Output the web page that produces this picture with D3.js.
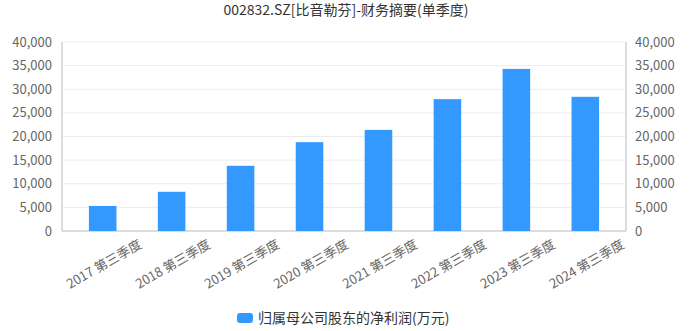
<!DOCTYPE html>
<html>
<head>
<meta charset="utf-8">
<script src="https://cdn.jsdelivr.net/npm/d3@7"></script>
<style>
  body { margin: 0; background: #fff; }
  svg text { font-family: "Noto Sans CJK SC", "Noto Sans", sans-serif; }
</style>
</head>
<body>
<svg class="chart" width="692" height="331"></svg>
<script>
const title = "002832.SZ[比音勒芬]-财务摘要(单季度)";
const seriesName = "归属母公司股东的净利润(万元)";
const categories = ["2017 第三季度", "2018 第三季度", "2019 第三季度", "2020 第三季度",
                    "2021 第三季度", "2022 第三季度", "2023 第三季度", "2024 第三季度"];
const profit = [5300, 8300, 13800, 18800, 21400, 27900, 34300, 28400];
const yTicks = [0, 5000, 10000, 15000, 20000, 25000, 30000, 35000, 40000];

(function barChart(){
    let svg = d3.select("svg.chart");
    let margin = {top: 42, right: 66, bottom: 100, left: 62};
    let width = svg.attr("width") - margin.left - margin.right;
    let height = svg.attr("height") - margin.top - margin.bottom;

    let x = d3.scaleBand().domain(categories).range([0, width])
        .paddingInner(0.6).paddingOuter(0.39);
    let y = d3.scaleLinear().domain([0, 40000]).range([height, 0]);
    let fmt = d3.format(",");

    // title
    svg.append("text")
        .attr("x", 346).attr("y", 15)
        .attr("text-anchor", "middle")
        .style("font-size", "14px")
        .style("fill", "#333")
        .text(title);

    let g = svg.append("g").attr("transform", "translate(" + margin.left + "," + margin.top + ")");

    // grid lines
    g.selectAll(".grid")
        .data(yTicks.filter(d => d > 0))
        .enter().append("line")
        .attr("x1", 0).attr("x2", width)
        .attr("y1", d => y(d)).attr("y2", d => y(d))
        .style("stroke", "#ececec");

    // frame: left, right, bottom
    g.append("line").attr("x1", 0).attr("x2", 0).attr("y1", 0).attr("y2", height)
        .style("stroke", "#d0d0d0").style("stroke-width", 1.5);
    g.append("line").attr("x1", width).attr("x2", width).attr("y1", 0).attr("y2", height)
        .style("stroke", "#d0d0d0").style("stroke-width", 1.5);
    g.append("line").attr("x1", 0).attr("x2", width).attr("y1", height).attr("y2", height)
        .style("stroke", "#d0d0d0").style("stroke-width", 1.5);

    // y labels left and right
    g.selectAll(".yl")
        .data(yTicks).enter().append("text")
        .attr("x", -10).attr("y", d => y(d)).attr("dy", "0.35em")
        .attr("text-anchor", "end")
        .style("font-size", "13px").style("fill", "#666")
        .text(d => fmt(d));
    g.selectAll(".yr")
        .data(yTicks).enter().append("text")
        .attr("x", width + 9).attr("y", d => y(d)).attr("dy", "0.35em")
        .attr("text-anchor", "start")
        .style("font-size", "13px").style("fill", "#666")
        .text(d => fmt(d));

    // bars
    g.selectAll(".bar")
        .data(profit).enter().append("rect")
        .attr("class", "bar")
        .attr("x", (d, i) => x(categories[i]))
        .attr("y", d => y(d))
        .attr("width", x.bandwidth())
        .attr("height", d => height - y(d))
        .style("fill", "#3399ff");

    // x labels rotated
    g.selectAll(".xl")
        .data(categories).enter().append("text")
        .attr("transform", d => "translate(" + (x(d) + x.bandwidth() / 2 + 40) + "," + (height + 16) + ") rotate(-30)")
        .attr("text-anchor", "end")
        .style("font-size", "13px").style("fill", "#666")
        .text(d => d);

    // legend
    let lg = svg.append("g").attr("transform", "translate(237,313)");
    lg.append("rect").attr("width", 16).attr("height", 10).attr("rx", 3)
        .style("fill", "#3399ff");
    lg.append("text").attr("x", 21).attr("y", 10)
        .style("font-size", "14px").style("fill", "#333")
        .text(seriesName);
})();
</script>
</body>
</html>
